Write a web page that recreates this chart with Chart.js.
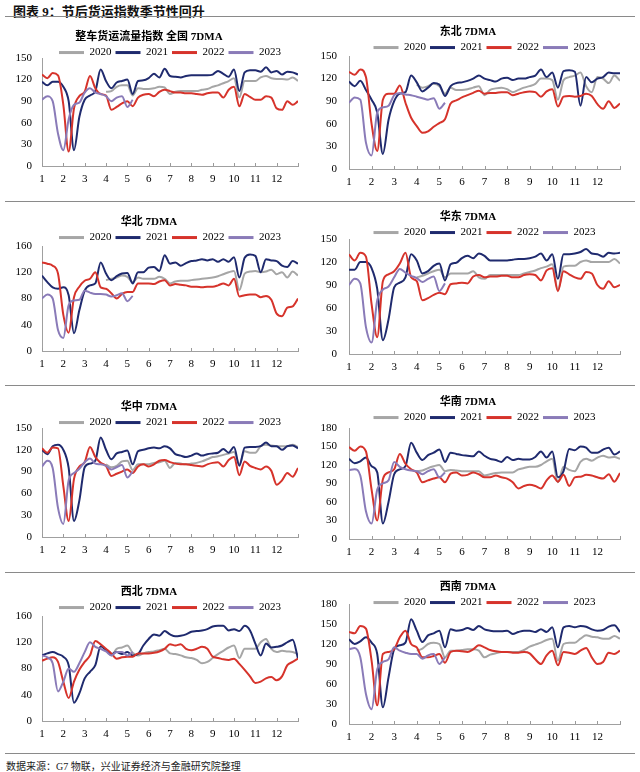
<!DOCTYPE html>
<html>
<head>
<meta charset="utf-8">
<script src="https://cdn.jsdelivr.net/npm/chart.js@4.4.0/dist/chart.umd.min.js"></script>
<style>
  body { margin: 0; width: 640px; height: 772px; background: #fff; position: relative; overflow: hidden;
         font-family: 'Liberation Serif', 'Noto Sans CJK SC', serif; }
  .head { position: absolute; left: 13px; top: 1px; font-size: 13px; font-weight: bold; color: #111; }
  .rule { position: absolute; left: 5px; width: 630px; height: 1px; background: #8a8a8a; }
  .foot { position: absolute; left: 6px; top: 758px; font-size: 10px; color: #222; }
  canvas { position: absolute; }
</style>
</head>
<body>
<div class="head">图表 9：节后货运指数季节性回升</div>
<div class="rule" style="top:16px"></div>
<div class="rule" style="top:201px"></div>
<div class="rule" style="top:385px"></div>
<div class="rule" style="top:572px"></div>
<div class="rule" style="top:753px"></div>
<div class="foot">数据来源：G7 物联，兴业证券经济与金融研究院整理</div>

<canvas id="p1" width="316" height="182" style="left:0;top:18px"></canvas>
<canvas id="p2" width="324" height="182" style="left:316px;top:18px"></canvas>
<canvas id="p3" width="316" height="182" style="left:0;top:202px"></canvas>
<canvas id="p4" width="324" height="182" style="left:316px;top:202px"></canvas>
<canvas id="p5" width="316" height="185" style="left:0;top:386px"></canvas>
<canvas id="p6" width="324" height="185" style="left:316px;top:386px"></canvas>
<canvas id="p7" width="316" height="179" style="left:0;top:573px"></canvas>
<canvas id="p8" width="324" height="179" style="left:316px;top:573px"></canvas>

<script>
// values every quarter month; 2021/2022 run from month 1 to 13,
// 2020 starts at month 4, 2023 stops in May
const years = ['2020', '2021', '2022', '2023'];
const monthTicks = [1, 2, 3, 4, 5, 6, 7, 8, 9, 10, 11, 12];
const step = 0.25;
const firstMonth = [4, 1, 1, 1];

// 全国
const qg2020 = [103,104,110,112, 112,98,108,107, 107,108,110,109, 100,103,104,104, 104,104,106,107, 110,112,115,118, 122,95,118,118, 118,123,125,122, 121,121,120,123, 118];
const qg2021 = [117,112,117,117, 110,90,22,68, 92,98,104,134, 118,108,116,118, 120,100,118,119, 122,128,123,135, 125,124,123,125, 126,126,126,126, 127,132,128,124, 134,104,130,133, 133,131,137,130, 132,127,131,130, 127];
const qg2022 = [127,122,129,126, 85,20,80,97, 103,125,108,100, 98,78,82,87, 90,83,95,99, 100,97,103,106, 104,102,102,101, 101,100,99,101, 102,102,95,106, 110,83,100,96, 92,92,97,95, 80,78,90,85, 90];
const qg2023 = [92,97,90,45, 22,65,85,88, 102,108,102,100, 97,90,95,97, 82,92];

// 东北
const db2020 = [112,108,110,113, 110,100,108,105, 105,106,108,110, 98,105,107,108, 106,102,105,108, 110,113,120,120, 118,92,118,122, 124,128,110,102, 122,120,114,124, 117];
const db2021 = [116,110,117,105, 92,75,20,65, 90,100,102,124, 115,103,108,114, 112,97,110,114, 115,117,120,124, 120,118,116,120, 121,118,120,120, 122,124,132,122, 128,108,130,131, 129,84,122,115, 120,122,128,127, 127];
const db2022 = [129,125,132,122, 60,24,92,100, 100,111,88,68, 57,48,50,56, 61,66,87,91, 95,98,101,104, 100,101,101,102, 102,98,100,102, 103,102,96,103, 106,83,96,97, 96,97,100,97, 86,80,90,81, 87];
const db2023 = [88,95,92,35, 18,75,82,84, 98,101,99,98, 96,94,92,94, 80,88];

// 华北
const hb2020 = [108,110,112,115, 113,105,112,110, 110,110,113,110, 103,106,107,107, 108,109,110,111, 112,114,117,120, 122,93,118,121, 122,120,121,124, 117,120,112,121, 115];
const hb2021 = [115,105,97,95, 97,85,27,62, 92,100,103,135, 118,108,114,118, 119,103,120,120, 127,128,122,146, 133,135,130,134, 137,138,140,138, 140,136,140,136, 143,112,142,147, 145,120,140,138, 137,130,128,137, 133];
const hb2022 = [135,133,130,118, 55,28,82,98, 107,110,120,97, 95,88,80,87, 90,90,103,103, 103,102,106,108, 100,102,101,100, 98,98,97,98, 98,100,103,100, 110,83,85,86, 86,82,84,78, 57,53,66,68, 80];
const hb2023 = [80,86,80,32, 20,70,77,78, 92,89,87,87, 86,83,85,88, 76,84];

// 华东
const hd2020 = [100,102,105,108, 110,100,105,105, 105,105,108,100, 98,103,103,103, 103,103,103,105, 107,109,112,114, 117,83,114,115, 115,120,122,120, 120,120,120,124, 118];
const hd2021 = [110,110,120,120, 112,85,18,45, 87,93,100,130, 122,105,108,115, 118,96,117,119, 125,128,125,131, 128,122,122,122, 122,123,124,124, 125,127,131,122, 130,98,130,130, 131,133,137,131, 130,127,132,131, 132];
const hd2022 = [130,122,132,127, 65,22,95,104, 108,118,132,100, 95,70,73,77, 80,78,91,92, 93,92,101,103, 100,101,101,102, 102,100,100,103, 104,103,96,109, 112,82,108,104, 100,98,107,105, 90,85,95,87, 90];
const hd2023 = [90,98,92,35, 15,70,84,88, 100,111,106,102, 99,94,98,101, 82,92];

// 华中
const hz2020 = [100,96,98,104, 105,92,100,100, 100,102,103,105, 95,102,101,100, 101,102,104,107, 110,111,113,115, 117,100,118,116, 116,125,127,126, 125,125,125,127, 124];
const hz2021 = [120,114,125,127, 120,95,22,50, 96,101,105,137, 120,107,115,117, 119,100,118,120, 122,123,122,125, 122,114,112,110, 112,115,112,114, 115,116,121,116, 124,98,123,124, 124,125,130,125, 125,120,125,126, 122];
const hz2022 = [122,116,123,122, 70,22,80,97, 103,124,110,102, 98,84,87,90, 93,88,97,100, 97,100,105,106, 103,101,100,100, 99,98,97,100, 102,103,97,106, 110,85,104,98, 95,93,97,91, 72,78,88,83, 95];
const hz2023 = [97,105,95,40, 18,78,88,94, 103,108,101,100, 98,93,96,99, 82,90];

// 华南
const hn2020 = [110,111,115,118, 120,110,112,111, 110,110,110,110, 103,105,107,108, 108,108,113,115, 117,117,120,126, 130,92,117,112, 110,125,130,127, 132,135,132,133, 130];
const hn2021 = [130,123,126,132, 118,108,25,60, 105,113,118,156, 140,128,136,140, 145,125,140,138, 136,135,134,142, 135,130,128,125, 133,128,130,129, 129,133,142,132, 142,100,110,146, 144,150,148,140, 140,145,148,137, 142];
const hn2022 = [149,143,150,142, 80,30,97,108, 113,138,122,113, 108,92,95,98, 100,92,106,108, 103,104,108,105, 100,100,103,100, 98,92,82,86, 88,86,82,95, 103,93,104,86, 100,101,104,103, 100,98,105,93, 107];
const hn2023 = [112,113,103,45, 25,80,90,95, 125,117,113,111, 110,105,110,113, 100,108];

// 西北
const xb2020 = [108,100,110,112, 115,104,100,103, 105,106,108,110, 103,102,100,97, 96,93,88,90, 96,102,107,112, 115,96,110,110, 110,120,125,110, 105,107,106,105, 102];
const xb2021 = [100,103,105,102, 98,85,28,42, 65,75,85,114, 108,102,105,102, 105,100,102,115, 125,132,130,137, 132,129,130,132, 136,137,138,140, 144,145,145,138, 140,137,145,138, 118,100,118,112, 113,115,120,124, 95];
const xb2022 = [92,95,97,90, 60,35,60,78, 90,100,122,117, 110,103,95,97, 98,98,103,103, 103,104,106,110, 117,115,117,110, 108,110,113,110, 98,96,94,93, 95,87,78,68, 58,60,65,67, 62,68,85,90, 95];
const xb2023 = [100,97,88,45, 60,80,75,88, 105,120,113,110, 106,100,105,105, 100,105];

// 西南
const xn2020 = [110,113,120,122, 120,100,110,110, 111,112,112,110, 100,104,106,108, 108,108,108,111, 116,119,122,126, 128,95,120,122, 122,128,133,131, 130,128,128,132, 128];
const xn2021 = [127,120,124,130, 122,105,25,70, 112,118,122,157, 140,123,133,136, 140,115,142,140, 141,144,141,147, 142,140,139,139, 140,135,138,140, 140,138,142,138, 145,115,145,147, 145,147,146,142, 140,141,146,148, 138];
const xn2022 = [138,136,147,143, 95,28,105,108, 112,130,140,120, 115,100,100,102, 105,92,108,110, 109,108,112,118, 115,111,109,108, 108,107,107,108, 106,97,90,103, 110,88,108,107, 105,110,114,100, 90,93,107,105, 110];
const xn2023 = [112,114,100,45, 22,82,93,97, 115,110,107,105, 105,98,103,105, 90,100];

const colors = ['#A6A6A6', '#1F2A6E', '#D6332B', '#8A7BB8'];
const font = "'Liberation Serif', 'Noto Sans CJK SC', serif";

// box = canvas left/top/width/height on the page, area = plot rectangle on the page
const panels = [
  {id: 'p1', title: '整车货运流量指数 全国 7DMA', max: 150, stepY: 30, series: [qg2020, qg2021, qg2022, qg2023], box: [0, 18, 316, 182], titleY: 37, area: [42, 58, 298, 166], yPad: 10},
  {id: 'p2', title: '东北 7DMA', max: 150, stepY: 30, series: [db2020, db2021, db2022, db2023], box: [316, 18, 324, 182], titleY: 32, area: [349, 56, 620, 169], yPad: 12},
  {id: 'p3', title: '华北 7DMA', max: 160, stepY: 40, series: [hb2020, hb2021, hb2022, hb2023], box: [0, 202, 316, 182], titleY: 222, area: [42, 246, 298, 351], yPad: 10},
  {id: 'p4', title: '华东 7DMA', max: 150, stepY: 30, series: [hd2020, hd2021, hd2022, hd2023], box: [316, 202, 324, 182], titleY: 217, area: [349, 239, 620, 354], yPad: 12},
  {id: 'p5', title: '华中 7DMA', max: 150, stepY: 30, series: [hz2020, hz2021, hz2022, hz2023], box: [0, 386, 316, 185], titleY: 407, area: [42, 428, 298, 537], yPad: 10},
  {id: 'p6', title: '华南 7DMA', max: 180, stepY: 30, series: [hn2020, hn2021, hn2022, hn2023], box: [316, 386, 324, 185], titleY: 402, area: [349, 428, 620, 539], yPad: 12},
  {id: 'p7', title: '西北 7DMA', max: 160, stepY: 40, series: [xb2020, xb2021, xb2022, xb2023], box: [0, 573, 316, 179], titleY: 592, area: [42, 616, 298, 721], yPad: 10},
  {id: 'p8', title: '西南 7DMA', max: 180, stepY: 30, series: [xn2020, xn2021, xn2022, xn2023], box: [316, 573, 324, 179], titleY: 587, area: [349, 604, 620, 724], yPad: 12}
];

// short upward tick marks on the x axis, as in the original
const innerTicks = {
  id: 'innerTicks',
  afterDraw(chart) {
    const {ctx, chartArea, scales: {x}} = chart;
    ctx.save();
    ctx.strokeStyle = '#9a9a9a';
    ctx.lineWidth = 1;
    for (let m = 1; m <= 13; m++) {
      const px = Math.round(x.getPixelForValue(m)) + 0.5;
      ctx.beginPath();
      ctx.moveTo(px, chartArea.bottom);
      ctx.lineTo(px, chartArea.bottom - 3);
      ctx.stroke();
    }
    ctx.restore();
  }
};

// the legend is squeezed so the plot can start right under it;
// widen its clip box again so the labels are not cut
const legendRoom = {
  id: 'legendRoom',
  afterLayout(chart) {
    const lg = chart.legend;
    if (lg) { lg.bottom += 10; lg.height += 10; }
  }
};

const titleLH = 12.1;
const xAxisH = 22;

panels.forEach(p => {
  const [bx, by, bw, bh] = p.box;
  const [al, at, ar, ab] = p.area;
  const titleTop = (p.titleY - by) - titleLH / 2;

  const datasets = p.series.map((vals, k) => ({
    label: years[k],
    data: vals.map((v, i) => ({x: firstMonth[k] + i * step, y: v})),
    borderColor: colors[k],
    backgroundColor: colors[k],
    borderWidth: 2,
    pointRadius: 0,
    cubicInterpolationMode: 'monotone',
    order: 4 - k
  }));

  new Chart(document.getElementById(p.id), {
    type: 'line',
    data: {datasets},
    options: {
      responsive: false,
      animation: false,
      devicePixelRatio: 1,
      layout: {padding: {top: 0, left: 0, right: bw - (ar - bx), bottom: bh - (ab - by) - xAxisH}},
      plugins: {
        title: {
          display: true, text: p.title, color: '#000',
          font: {family: font, size: 11, weight: 'bold', lineHeight: 1.1},
          padding: {top: titleTop, bottom: 0}
        },
        legend: {
          fullSize: false,
          maxHeight: at - p.titleY - titleLH / 2,
          labels: {
            boxWidth: 25, boxHeight: 3, padding: 4, color: '#000',
            font: {family: font, size: 11},
            sort: (a, b) => a.datasetIndex - b.datasetIndex,
            generateLabels(chart) {
              const items = Chart.defaults.plugins.legend.labels.generateLabels(chart);
              items.forEach(it => { it.lineWidth = 0; });
              return items;
            }
          }
        },
        tooltip: {enabled: false}
      },
      scales: {
        x: {
          type: 'linear', min: 1, max: 13,
          afterFit(s) { s.height = xAxisH; },
          ticks: {
            stepSize: 1, autoSkip: false, maxRotation: 0, padding: 7, color: '#000',
            font: {family: font, size: 11},
            callback: v => monthTicks.includes(v) ? String(v) : ''
          },
          grid: {display: false, drawTicks: false},
          border: {color: '#a0a0a0'}
        },
        y: {
          min: 0, max: p.max,
          afterFit(s) { s.width = al - bx; },
          ticks: {stepSize: p.stepY, padding: p.yPad, color: '#000', font: {family: font, size: 11}},
          grid: {display: false, drawTicks: false},
          border: {color: '#a0a0a0'}
        }
      }
    },
    plugins: [innerTicks, legendRoom]
  });
});
</script>
</body>
</html>
